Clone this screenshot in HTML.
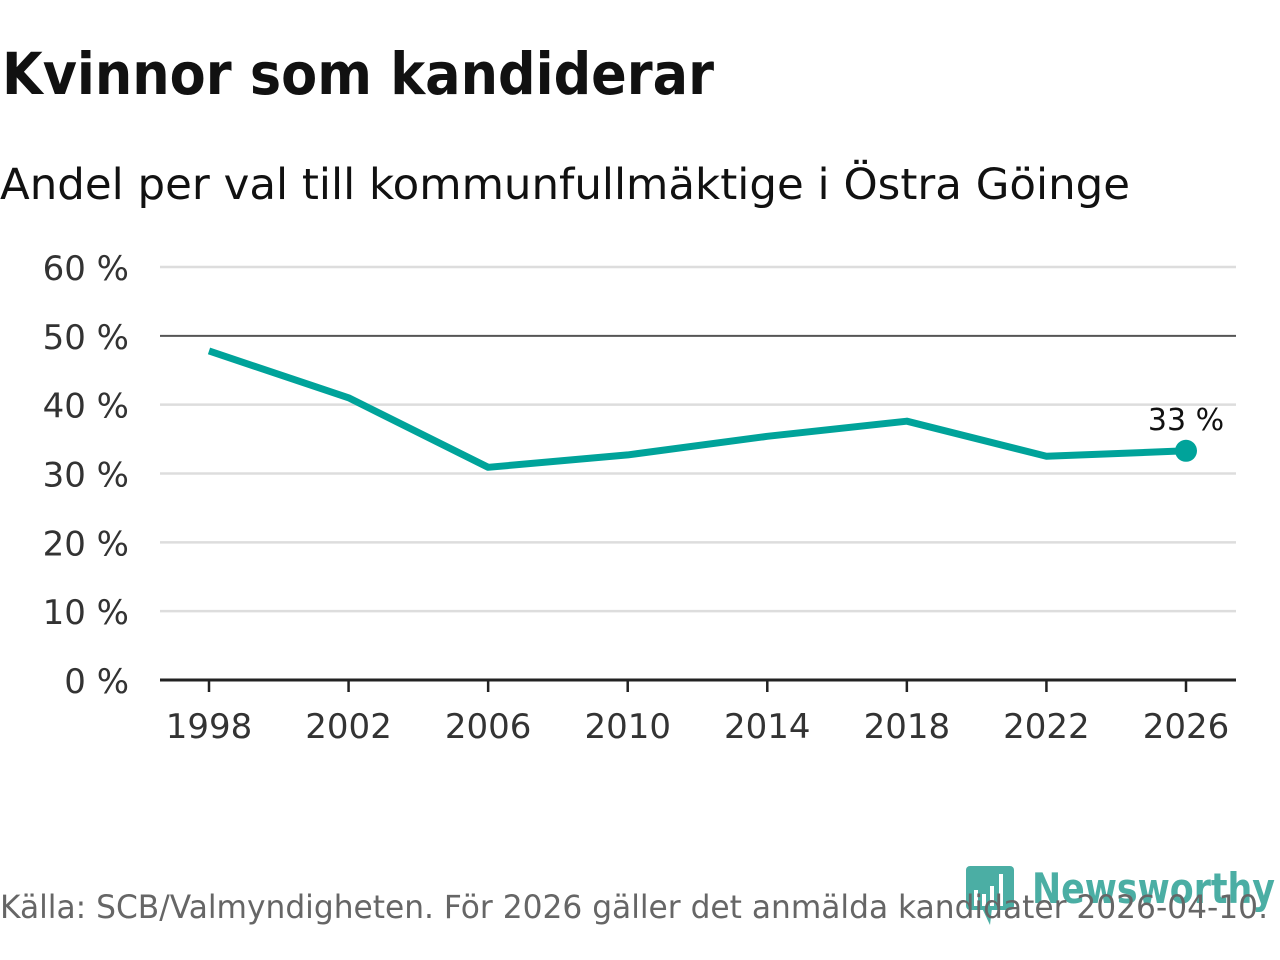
<!DOCTYPE html>
<html><head><meta charset="utf-8"><style>
body{margin:0;width:1280px;height:960px;background:#fff;overflow:hidden;font-family:"DejaVu Sans","Liberation Sans",sans-serif;}
svg{position:absolute;left:0;top:0}
</style></head><body>
<svg width="1280" height="960">
<text x="2" y="94" font-size="58" font-weight="bold" fill="#111" textLength="712" lengthAdjust="spacingAndGlyphs">Kvinnor som kandiderar</text>
<text x="0" y="199" font-size="43" fill="#111" textLength="1130" lengthAdjust="spacingAndGlyphs">Andel per val till kommunfullmäktige i Östra Göinge</text>
<g id="grid"></g><g id="xax"></g>
<polyline id="line" fill="none" stroke="#00a39a" stroke-width="7" stroke-linejoin="round"/>
<g id="lab"></g>
<g opacity="0.8">
<rect x="966" y="866" width="48" height="44" rx="4" fill="#1f9b8e"/>
<polygon points="982,908 992,908 990,925" fill="#1f9b8e"/>
<rect x="974" y="890" width="4" height="16" fill="#fff"/><rect x="982" y="894" width="4" height="12" fill="#fff"/><rect x="990" y="886" width="4" height="20" fill="#fff"/><rect x="999" y="874" width="4" height="32" fill="#fff"/>
<text x="1032" y="903" font-size="42" font-weight="bold" fill="#1f9b8e" textLength="243" lengthAdjust="spacingAndGlyphs">Newsworthy</text>
</g>
<text x="0" y="918" font-size="32" fill="#666" textLength="1268" lengthAdjust="spacingAndGlyphs">Källa: SCB/Valmyndigheten. För 2026 gäller det anmälda kandidater 2026-04-10.</text>
</svg>
<script>
const years=[1998,2002,2006,2010,2014,2018,2022,2026];
const values=[47.8,41.0,30.9,32.7,35.4,37.6,32.5,33.3];
const yTicks=[0,10,20,30,40,50,60];
const yTickLabels=["0 %","10 %","20 %","30 %","40 %","50 %","60 %"];
const ns="http://www.w3.org/2000/svg";
const X=v=>209+(v-1998)*(1186-209)/28;
const Y=v=>680-v*(680-267)/60;
function mk(t,a,p){const e=document.createElementNS(ns,t);for(const k in a)e.setAttribute(k,a[k]);p.appendChild(e);return e;}
const g=document.getElementById('grid');
yTicks.forEach((t,i)=>{
 const l=mk('line',{x1:160,x2:1236,y1:Y(t),y2:Y(t),stroke:t==50?'#555':(t==0?'#222':'#ddd'),'stroke-width':t==0?3:(t==50?2:2.5)},g);
 
 
 const tx=mk('text',{x:129,y:Y(t)+13,'text-anchor':'end','font-size':34,fill:'#333'},g);tx.textContent=yTickLabels[i];
 
 
});
const xa=document.getElementById('xax');
years.forEach(y=>{
 const l=mk('line',{x1:X(y),x2:X(y),y1:680,y2:692,stroke:'#222','stroke-width':2.5},xa);
 
 
 const t=mk('text',{x:X(y),y:738,'text-anchor':'middle','font-size':34,fill:'#333'},xa);t.textContent=y;
 
 
});
document.getElementById('line').setAttribute('points',years.map((y,i)=>X(y)+','+Y(values[i])).join(' '));
const lb=document.getElementById('lab');
const n=years.length-1;
const c=mk('circle',{cx:X(years[n]),cy:Y(values[n]),r:11,fill:'#00a39a'},lb);


const vt=mk('text',{x:X(years[n]),y:Y(values[n])-21,'text-anchor':'middle','font-size':30,fill:'#111'},lb);
vt.textContent=Math.round(values[n])+' %';


</script>
</body></html>
